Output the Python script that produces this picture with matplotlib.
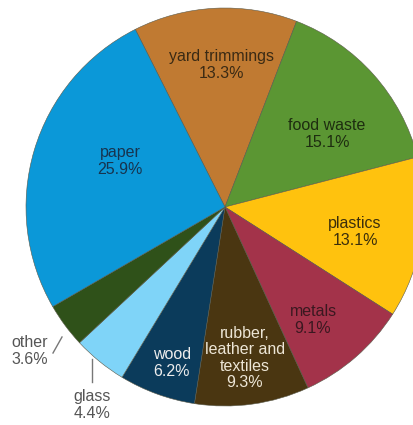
import matplotlib.pyplot as plt

# waste composition, clockwise from yard trimmings
categories = ['yard trimmings', 'food waste', 'plastics', 'metals',
              'rubber,\nleather and\ntextiles', 'wood', 'glass', 'other', 'paper']
shares = [13.3, 15.1, 13.1, 9.1, 9.3, 6.2, 4.4, 3.6, 25.9]
colors = ['#C07A32', '#5B9633', '#FFC20E', '#A3334A', '#4A3611',
          '#0B3B5B', '#7FD4F8', '#2F5119', '#0B98D8']
text_colors = ['#3A2A14', '#1E2D10', '#3A2E0C', '#3A1820', '#EDE6D6',
               '#EDEDED', '#555555', '#555555', '#17344F']

# label centres in image pixels (x, y)
label_px = [(222, 65), (327, 134), (355, 232), (313, 320), (245, 358),
            (172, 363), (92, 405), (30, 351), (120, 161)]

W, H = 413, 425
CX, CY, R = 225, 207, 199


def to_data(px, py):
    return (px - CX) / R, (CY - py) / R


fig = plt.figure(figsize=(W / 100, H / 100), dpi=100)
ax = fig.add_axes([0, 0, 1, 1])
ax.pie(shares, colors=colors, startangle=116.8, counterclock=False,
       wedgeprops=dict(edgecolor='#5a5a4a', linewidth=0.4))
ax.set_xlim(to_data(0, 0)[0], to_data(W, 0)[0])
ax.set_ylim(to_data(0, H)[1], to_data(0, 0)[1])
ax.set_aspect('auto')
ax.axis('off')

for cat, val, tc, (px, py) in zip(categories, shares, text_colors, label_px):
    x, y = to_data(px, py)
    ax.text(x, y, f'{cat}\n{val}%', ha='center', va='center', color=tc,
            fontsize=11.5, family='Liberation Sans', linespacing=1.1)

# leader lines for the two small slices
ax.plot(*zip(to_data(62, 337), to_data(53, 353)), color='#777777', lw=1)
ax.plot(*zip(to_data(92, 359), to_data(92, 382)), color='#777777', lw=1)

fig.savefig('out.png', dpi=100)
